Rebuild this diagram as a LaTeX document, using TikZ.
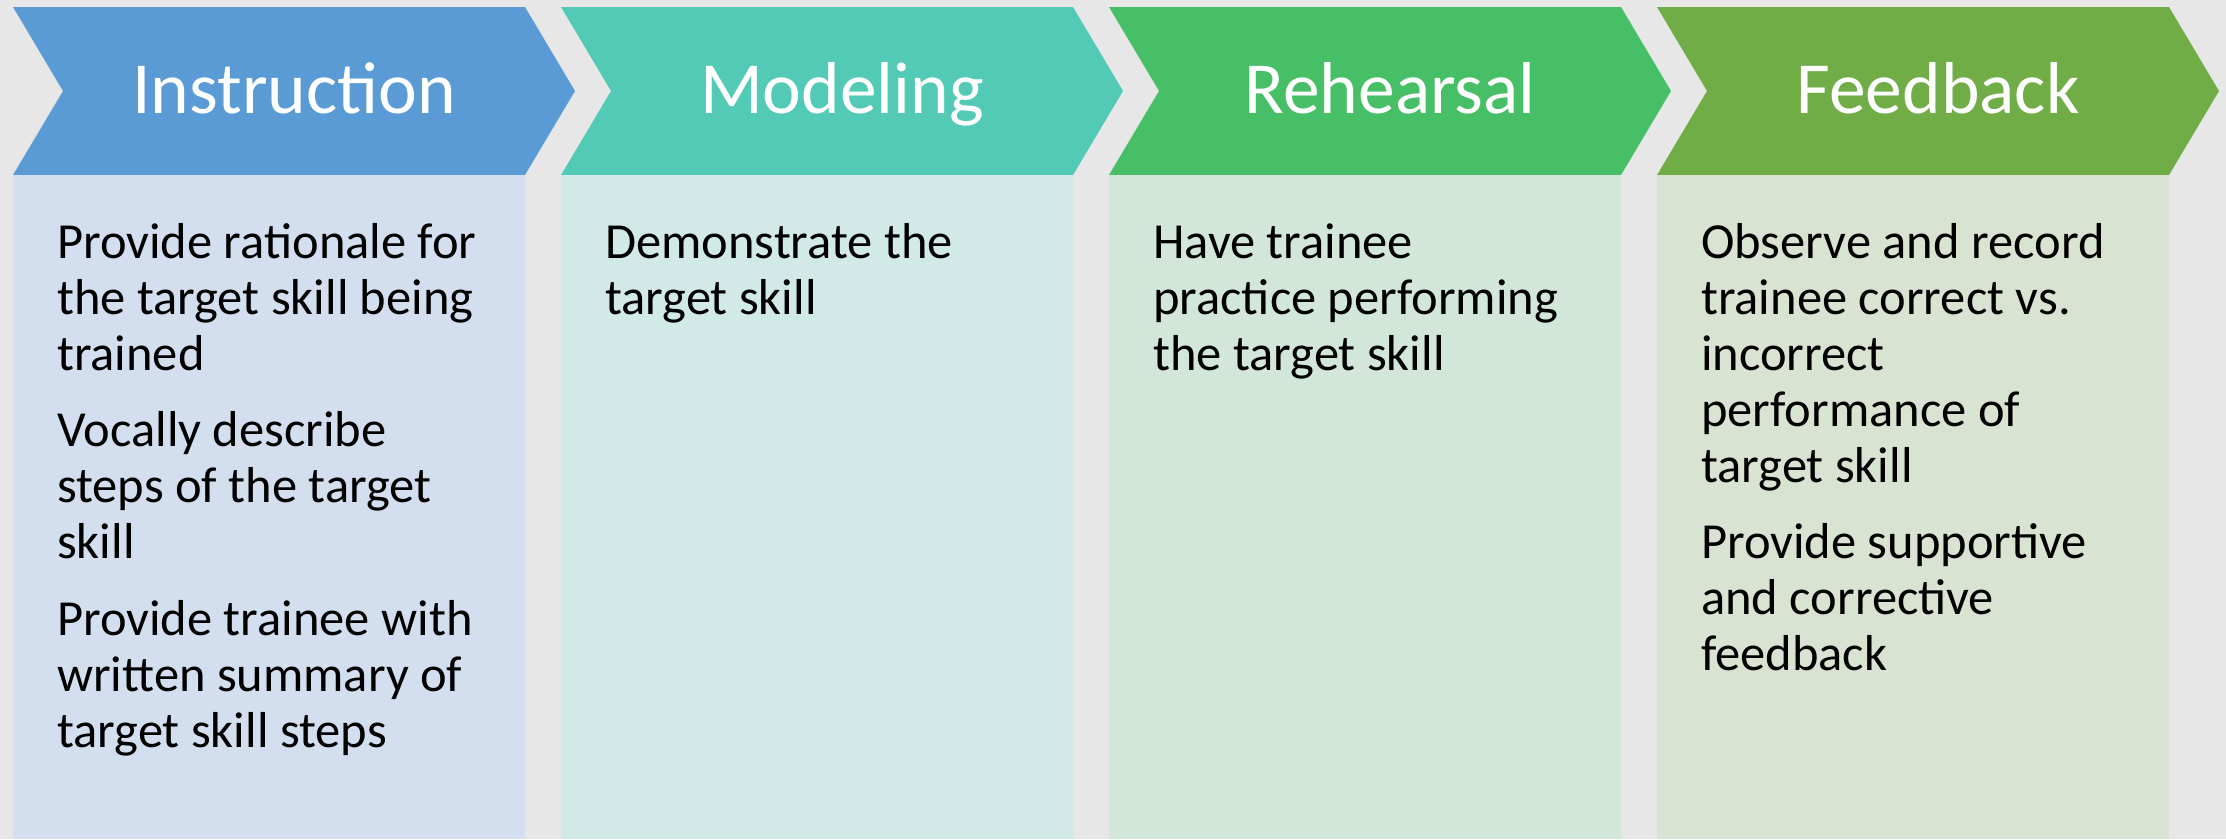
\documentclass[tikz,border=0pt]{standalone}
\usepackage{fontspec}
\setmainfont{Carlito}
\definecolor{bgc}{HTML}{E7E7E7}
\definecolor{hA}{HTML}{5B9BD5}
\definecolor{hB}{HTML}{53CAB5}
\definecolor{hC}{HTML}{47BF66}
\definecolor{hD}{HTML}{70AD47}
\definecolor{bA}{HTML}{D3DEEE}
\definecolor{bB}{HTML}{D2EAE7}
\definecolor{bC}{HTML}{D3E6DA}
\definecolor{bD}{HTML}{D8E3D2}
\begin{document}
\begin{tikzpicture}[x=1pt,y=-1pt,
  head/.style={font=\fontsize{73.5}{88}\selectfont, text=white, anchor=base, inner sep=0pt},
  body/.style={font=\fontsize{50.5}{56}\selectfont, align=left, anchor=north west, inner sep=0pt, text=black}]
\useasboundingbox (0,0) rectangle (2226,839);
\fill[bgc] (0,0) rectangle (2226,839);
% one stage: chevron header + panel below
\foreach \L/\hc/\bc in {13/hA/bA, 561/hB/bB, 1109/hC/bC, 1657/hD/bD}{
  \fill[\hc] (\L,7) -- ({\L+512},7) -- ({\L+562},91) -- ({\L+512},175) -- (\L,175) -- ({\L+50},91) -- cycle;
  \fill[\bc] (\L,175) rectangle ({\L+512},839);
}
% stage titles
\node[head] (tA) at (294,113) {Instruction};
\node[head] (tB) at (842,113) {Modeling};
\node[head] (tC) at (1390,113) {Rehearsal};
\node[head] (tD) at (1938,113) {Feedback};
% stage descriptions
\node[body] (dA) at (57,214) {\rule{0pt}{44pt}Provide rationale for\\the target skill being\\trained\\[20.5pt]Vocally describe\\steps of the target\\skill\\[20.5pt]Provide trainee with\\written summary of\\target skill steps};
\node[body] (dB) at (605,214) {\rule{0pt}{44pt}Demonstrate the\\target skill};
\node[body] (dC) at (1153,214) {\rule{0pt}{44pt}Have trainee\\practice performing\\the target skill};
\node[body] (dD) at (1701,214) {\rule{0pt}{44pt}Observe and record\\trainee correct vs.\\incorrect\\performance of\\target skill\\[20.5pt]Provide supportive\\and corrective\\feedback};
\end{tikzpicture}
\end{document}
